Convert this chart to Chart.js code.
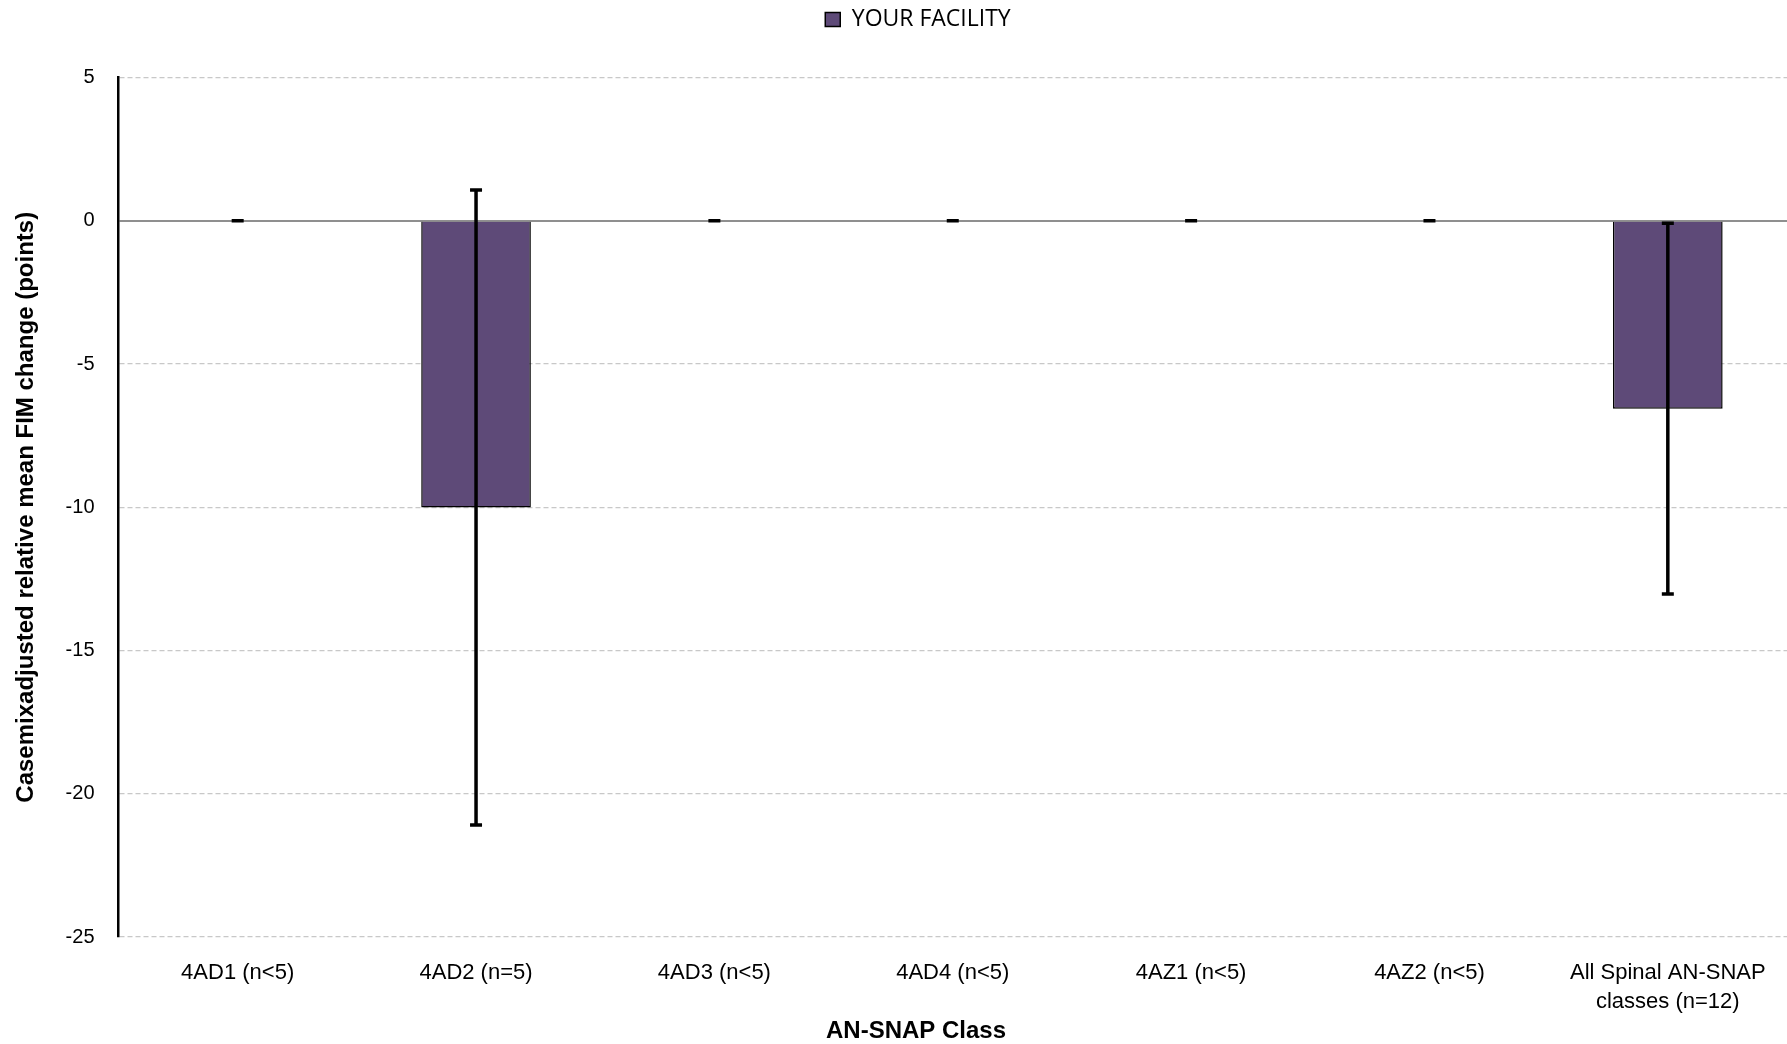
<!DOCTYPE html>
<html>
<head>
<meta charset="utf-8">
<script src="https://cdn.jsdelivr.net/npm/chart.js@4"></script>
<style>
  html, body { margin: 0; padding: 0; background: #fff; }
  #wrap { width: 1787px; height: 1044px; position: relative; }
</style>
</head>
<body>
<div id="wrap"><canvas id="myChart"></canvas></div>
<script>
// data
const categories = ['4AD1 (n<5)', '4AD2 (n=5)', '4AD3 (n<5)', '4AD4 (n<5)', '4AZ1 (n<5)', '4AZ2 (n<5)', ['All Spinal AN-SNAP', 'classes (n=12)']];
const facilityValues = [0, -10.01, 0, 0, 0, 0, -6.56];
const facilityErrors = [0, 11.08, 0, 0, 0, 0, 6.47];
const yTicks = [5, 0, -5, -10, -15, -20, -25];

const narrow = '"Liberation Sans Narrow", "Arial Narrow", "Liberation Sans", sans-serif';

// error bars drawn from the arrays through the y scale
const errorBars = {
    id: 'errorBars',
    afterDatasetsDraw(chart) {
        const ctx = chart.ctx;
        const meta = chart.getDatasetMeta(0);
        const y = chart.scales.y;
        ctx.save();
        ctx.strokeStyle = '#000';
        ctx.lineWidth = 3.5;
        meta.data.forEach((bar, i) => {
            const top = y.getPixelForValue(facilityValues[i] + facilityErrors[i]);
            const bot = y.getPixelForValue(facilityValues[i] - facilityErrors[i]);
            ctx.beginPath();
            ctx.moveTo(bar.x, top);
            ctx.lineTo(bar.x, bot);
            ctx.moveTo(bar.x - 6, top);
            ctx.lineTo(bar.x + 6, top);
            ctx.moveTo(bar.x - 6, bot);
            ctx.lineTo(bar.x + 6, bot);
            ctx.stroke();
        });
        ctx.restore();
    }
};

// legend sits in a taller band, a bit right of centre
const legendBand = {
    id: 'legendBand',
    beforeLayout(chart) {
        const lg = chart.legend;
        if (lg && !lg._fixed) {
            const fit = lg.fit;
            lg.fit = function () { fit.call(this); this.height = 77.5; };
            lg._fixed = true;
        }
    },
    afterLayout(chart) {
        if (chart.legend) chart.legend.left += 49;
    }
};

// x title, placed like the reference
const xTitle = {
    id: 'xTitle',
    afterDraw(chart) {
        const ctx = chart.ctx;
        ctx.save();
        ctx.font = 'bold 24px ' + narrow;
        ctx.fillStyle = '#000';
        ctx.textAlign = 'center';
        ctx.textBaseline = 'middle';
        ctx.fillText('AN-SNAP Class', 916, 1031);
        ctx.restore();
    }
};

const ctx = document.getElementById('myChart');

new Chart(ctx, {
    type: 'bar',
    data: {
        labels: categories,
        datasets: [{
            label: 'YOUR FACILITY',
            data: facilityValues,
            backgroundColor: '#5e4a78',
            borderColor: '#000',
            borderWidth: 1.5,
            barPercentage: 0.46,
            categoryPercentage: 1
        }]
    },
    options: {
        responsive: true,
        maintainAspectRatio: false,
        animation: false,
        layout: { padding: 0 },
        plugins: {
            tooltip: { enabled: false },
            legend: {
                position: 'top',
                labels: {
                    color: '#000',
                    font: { family: '"Open Sans", sans-serif', size: 23 },
                    boxWidth: 15,
                    boxHeight: 14,
                    padding: 8
                }
            }
        },
        scales: {
            x: {
                grid: { display: false },
                border: { display: false },
                ticks: {
                    color: '#000',
                    font: { family: narrow, size: 22, lineHeight: 1.3 },
                    padding: 14,
                    maxRotation: 0,
                    autoSkip: false
                },
                afterFit(scale) {
                    scale.height = 107;
                    scale.paddingLeft = 0;
                    scale.paddingRight = 0;
                }
            },
            y: {
                min: Math.min(...yTicks),
                max: Math.max(...yTicks),
                ticks: {
                    stepSize: 5,
                    color: '#000',
                    font: { family: '"Liberation Sans", Arial, sans-serif', size: 20 },
                    padding: 24
                },
                grid: {
                    drawTicks: false,
                    color: c => (c.tick && c.tick.value === 0) ? '#8f8f8f' : '#c8c8c8',
                    lineWidth: c => (c.tick && c.tick.value === 0) ? 2 : 1.2
                },
                border: {
                    display: true,
                    color: '#000',
                    width: 2.5,
                    dash: c => (c.tick && c.tick.value === 0) ? [] : [5, 3]
                },
                title: {
                    display: true,
                    text: 'Casemixadjusted relative mean FIM change (points)',
                    color: '#000',
                    font: { family: narrow, size: 24, weight: 'bold' },
                    padding: { top: 12, bottom: 0 }
                },
                afterFit(scale) { scale.width = 118.5; }
            }
        }
    },
    plugins: [errorBars, legendBand, xTitle]
});
</script>
</body>
</html>
